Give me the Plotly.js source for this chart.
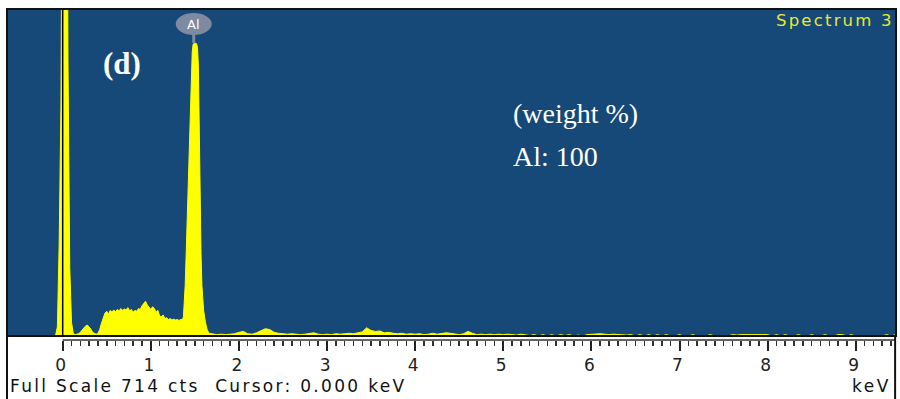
<!DOCTYPE html>
<html>
<head>
<meta charset="utf-8">
<script src="https://cdn.plot.ly/plotly-3.0.1.min.js"></script>
<style>html,body{margin:0;padding:0;background:#fff;}#chart{width:900px;height:399px;}</style>
</head>
<body>
<div id="chart"></div>
<script>
// ---- data (energy in keV, counts) ----
const zeroKeV = [-0.10,-0.08,-0.06,-0.04,-0.02,0.00,0.02,0.04,0.06,0.08,0.10];
const zeroCts = [0,2,20,200,500,1600,2000,1600,600,150,30];

const lowKeV = [0.12,0.14,0.16,0.18,0.20,0.22,0.24,0.26,0.28,0.30,
                0.32,0.34,0.36,0.38,0.40,0.42,0.44,0.46,0.48,0.50,
                0.52,0.54,0.56,0.58,0.60,0.62,0.64,0.66,0.68,0.70,
                0.72,0.74,0.76,0.78,0.80,0.82,0.84,0.86,0.88,0.90,
                0.92,0.94,0.96,0.98,1.00,1.02,1.04,1.06,1.08,1.10,
                1.12,1.14,1.16,1.18,1.20,1.22,1.24,1.26,1.28,1.30,
                1.32,1.34];
const lowCts = [6,3,4,5,8,13,18,22,24,20,
                15,8,5,4,6,14,28,40,50,54,
                48,56,52,57,53,58,55,60,56,59,
                57,62,55,58,52,56,54,60,58,66,
                70,76,68,62,58,64,60,52,56,44,
                42,46,38,40,36,38,35,37,35,36,
                34,36];

const alKeV = [1.36,1.37,1.38,1.39,1.40,1.41,1.42,1.43,1.44,1.45,
               1.46,1.47,1.48,1.50,1.52,1.53,1.54,1.55,1.56,1.57,
               1.58,1.60,1.62,1.64,1.66];
const alCts = [36,42,70,110,170,230,300,380,450,520,
               580,620,637,640,638,630,590,420,297,180,
               110,55,30,14,6];

const tailKeV = [1.70,1.75,1.80,1.85,1.90,1.95,2.00,2.05,2.10,2.15,
                 2.20,2.25,2.30,2.35,2.40,2.45,2.50,2.55,2.60,2.65,
                 2.70,2.75,2.80,2.85,2.90,2.95,3.00,3.05,3.10,3.15,
                 3.20,3.25,3.30,3.35,3.40,3.45,3.50,3.55,3.60,3.65,
                 3.70,3.75,3.80,3.85,3.90,3.95,4.00,4.05,4.10,4.15,
                 4.20,4.25,4.30,4.35,4.40,4.45,4.50,4.55,4.60,4.65,
                 4.70,4.75,4.80,4.85,4.90,4.95,5.00,5.05,5.10,5.15,
                 5.20,5.25,5.30,5.35,5.40,5.45,5.50,5.55,5.60,5.65,
                 5.70,5.75,5.80,5.85,5.90,5.95,6.00,6.05,6.10,6.15,
                 6.20,6.25,6.30,6.35,6.40,6.45,6.50,6.55,6.60,6.65,
                 6.70,6.75,6.80,6.85,6.90,6.95,7.00,7.05,7.10,7.15,
                 7.20,7.25,7.30,7.35,7.40,7.45,7.50,7.55,7.60,7.65,
                 7.70,7.75,7.80,7.85,7.90,7.95,8.00,8.05,8.10,8.15,
                 8.20,8.25,8.30,8.35,8.40,8.45,8.50,8.55,8.60,8.65,
                 8.70,8.75,8.80,8.85,8.90,8.95,9.00,9.05,9.10,9.15,
                 9.20,9.25,9.30,9.35,9.40,9.45];
const tailCts = [4,3,4,3,4,5,8,10,5,4,
                 7,12,16,14,8,6,5,4,5,4,
                 3,4,5,7,4,3,4,3,5,4,
                 5,6,5,7,9,18,12,10,11,7,
                 8,6,5,6,4,5,4,5,3,4,
                 6,4,5,7,6,4,3,5,10,6,
                 3,4,3,4,3,4,3,4,3,2,
                 4,3,1,3,0,3,0,3,0,3,
                 1,3,0,2,0,3,4,4,5,4,
                 3,4,3,3,2,3,0,3,0,3,
                 0,3,0,3,0,0,3,0,0,3,
                 0,0,0,3,0,0,0,0,3,2,
                 3,3,4,3,3,4,3,0,3,0,
                 3,0,0,3,0,0,3,0,0,3,
                 0,0,3,3,0,3,0,0,0,0,
                 0,0,0,3,0,3];

const majorTicks = [0,1,2,3,4,5,6,7,8,9];
const tickLabels = ['0','1','2','3','4','5','6','7','8','9'];
const fullScale = 714;
const cursorKeV = 0.0;
const alLineKeV = 1.487;
const xRange = [-0.632, 9.457];

// ---- build ----
const energy = [].concat(zeroKeV, lowKeV, alKeV, tailKeV);
const counts = [].concat(zeroCts, lowCts, alCts, tailCts);

const minorTicks = [];
for (let i = 1; i <= 94; i++) { if (i % 10 !== 0) minorTicks.push(i / 10); }

const yBot = 0.1615;   // bottom of plot frame (paper)
const axPos = 0.1513;  // tick baseline (paper)

const trace = {
  type: 'scatter', mode: 'lines', x: energy, y: counts,
  line: {color: '#ffff00', width: 1}, fill: 'tozeroy', fillcolor: '#ffff00',
  hoverinfo: 'skip'
};

const layout = {
  width: 900, height: 399,
  margin: {l: 7, r: 4, t: 9, b: 0, pad: 0},
  paper_bgcolor: '#ffffff', plot_bgcolor: '#164978',
  showlegend: false,
  xaxis: {
    range: xRange, anchor: 'free', position: axPos, domain: [0, 1],
    showline: false, showgrid: false, zeroline: false,
    tickmode: 'array', tickvals: majorTicks, ticktext: tickLabels,
    ticks: 'outside', ticklen: 10, tickwidth: 2, tickcolor: '#222',
    ticklabelshift: -2,
    tickfont: {family: 'DejaVu Sans', size: 17, color: '#222'},
    minor: {tickmode: 'array', tickvals: minorTicks, ticks: 'outside', ticklen: 5, tickwidth: 1.5, tickcolor: '#333', showgrid: false},
    fixedrange: true, automargin: false
  },
  yaxis: {domain: [yBot, 1], range: [0, fullScale], visible: false, fixedrange: true, showgrid: false, zeroline: false},
  shapes: [
    {type: 'rect', xref: 'paper', yref: 'paper', x0: 0, x1: 1, y0: yBot, y1: 1, line: {color: '#111', width: 2}},
    {type: 'line', xref: 'x', yref: 'paper', x0: cursorKeV, x1: cursorKeV, y0: yBot, y1: 1, line: {color: '#000', width: 1.5}},
    {type: 'line', xref: 'x', yref: 'paper', x0: 0, x1: xRange[1], y0: axPos, y1: axPos, line: {color: '#333', width: 1.5}},
    {type: 'line', xref: 'paper', yref: 'paper', x0: 0, x1: 0, y0: 0, y1: yBot, line: {color: '#111', width: 2}},
    {type: 'line', xref: 'paper', yref: 'paper', x0: 0.999, x1: 0.999, y0: 0, y1: yBot, line: {color: '#111', width: 2}},
    {type: 'circle', xref: 'x', xsizemode: 'pixel', xanchor: alLineKeV, x0: -18, x1: 18,
     yref: 'paper', ysizemode: 'pixel', yanchor: 0.9615, y0: -11, y1: 11,
     fillcolor: '#7d8aa0', line: {width: 0}},
    {type: 'line', xref: 'x', yref: 'paper', x0: alLineKeV, x1: alLineKeV, y0: 0.913, y1: 0.94, line: {color: '#7d8aa0', width: 3}}
  ],
  annotations: [
    {xref: 'x', yref: 'paper', x: alLineKeV, y: 0.9615, text: 'Al', showarrow: false,
     font: {family: 'DejaVu Sans', size: 13, color: '#ffffff'}, xanchor: 'center', yanchor: 'middle'},
    {xref: 'paper', yref: 'paper', x: 0.1294, y: 0.859, text: '<b>(d)</b>', showarrow: false,
     font: {family: 'Liberation Serif', size: 31, color: '#ffffff'}, xanchor: 'center', yanchor: 'middle'},
    {xref: 'paper', yref: 'paper', x: 0.567, y: 0.7308, text: '(weight %)', showarrow: false,
     font: {family: 'Liberation Serif', size: 28, color: '#ffffff'}, xanchor: 'left', yanchor: 'middle'},
    {xref: 'paper', yref: 'paper', x: 0.567, y: 0.623, text: 'Al: 100', showarrow: false,
     font: {family: 'Liberation Serif', size: 28, color: '#ffffff'}, xanchor: 'left', yanchor: 'middle'},
    {xref: 'paper', yref: 'paper', x: 1.0, y: 0.970, text: '<span style="letter-spacing:2.2px">Spectrum 3</span>', showarrow: false,
     font: {family: 'DejaVu Sans', size: 16.5, color: '#e8e832'}, xanchor: 'right', yanchor: 'middle'},
    {xref: 'paper', yref: 'paper', x: 0.001, y: 0.033, text: '<span style="letter-spacing:2.3px">Full Scale 714 cts  Cursor: 0.000 keV</span>', showarrow: false,
     font: {family: 'DejaVu Sans', size: 17, color: '#111'}, xanchor: 'left', yanchor: 'middle'},
    {xref: 'paper', yref: 'paper', x: 0.997, y: 0.033, text: '<span style="letter-spacing:2.5px">keV</span>', showarrow: false,
     font: {family: 'DejaVu Sans', size: 17, color: '#111'}, xanchor: 'right', yanchor: 'middle'}
  ]
};

Plotly.newPlot('chart', [trace], layout, {staticPlot: true, displayModeBar: false});
</script>
</body>
</html>
